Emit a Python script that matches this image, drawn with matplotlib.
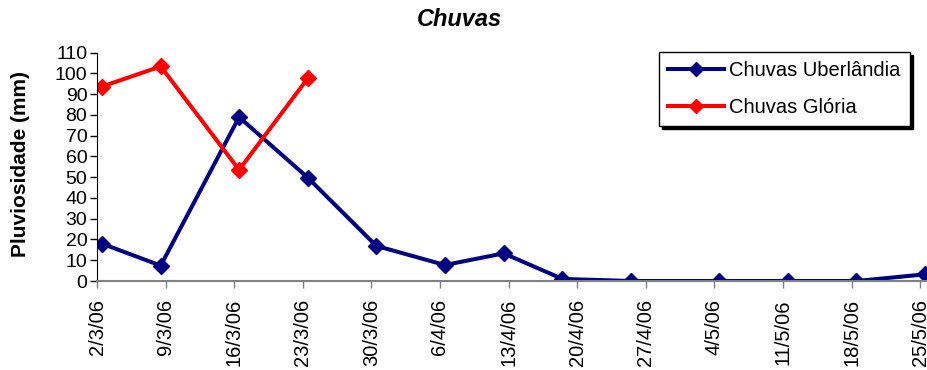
import datetime as dt

import matplotlib
matplotlib.use('Agg')
import matplotlib.dates as mdates
import matplotlib.pyplot as plt

plt.rcParams['font.family'] = ['Liberation Sans', 'DejaVu Sans']

# measurement dates (rain gauge readings)
uberlandia_dates = ['2006-03-02', '2006-03-08', '2006-03-16', '2006-03-23', '2006-03-30',
                    '2006-04-06', '2006-04-12', '2006-04-18', '2006-04-25', '2006-05-04',
                    '2006-05-11', '2006-05-18', '2006-05-25']
uberlandia_mm = [18, 7.4, 78.9, 49.8, 16.9, 7.7, 13.3, 1.0, 0, 0, 0, 0, 3.2]

gloria_dates = ['2006-03-02', '2006-03-08', '2006-03-16', '2006-03-23']
gloria_mm = [93.6, 103.3, 53.5, 97.5]

tick_dates = ['2006-03-02', '2006-03-09', '2006-03-16', '2006-03-23', '2006-03-30',
              '2006-04-06', '2006-04-13', '2006-04-20', '2006-04-27', '2006-05-04',
              '2006-05-11', '2006-05-18', '2006-05-25']
tick_labels = ['2/3/06', '9/3/06', '16/3/06', '23/3/06', '30/3/06', '6/4/06', '13/4/06',
               '20/4/06', '27/4/06', '4/5/06', '11/5/06', '18/5/06', '25/5/06']


def to_num(days, centre=False):
    # points sit in the middle of their day slot, ticks on the slot edge
    off = 0.5 if centre else 0.0
    return [mdates.date2num(dt.datetime.strptime(d, '%Y-%m-%d')) + off for d in days]


fig = plt.figure(figsize=(9.28, 3.70), dpi=100)
ax = fig.add_axes([97 / 928, 89 / 370, 831 / 928, 228.5 / 370])

ax.plot(to_num(uberlandia_dates, True), uberlandia_mm, color='#000080', lw=2.9,
        marker='D', ms=8.5, label='Chuvas Uberlândia')
ax.plot(to_num(gloria_dates, True), gloria_mm, color='#FF0000', lw=2.9,
        marker='D', ms=8.5, label='Chuvas Glória')

x0 = to_num(['2006-03-02'])[0]
ax.set_xlim(x0, x0 + 84.8)
ax.set_ylim(0, 110)
ax.set_yticks(range(0, 111, 10))
ax.set_xticks(to_num(tick_dates))
ax.set_xticklabels(tick_labels, rotation=90)

for s in ('top', 'right'):
    ax.spines[s].set_visible(False)
ax.spines['left'].set_color('black')
ax.spines['bottom'].set_color('#808080')
ax.spines['bottom'].set_linewidth(1.5)
ax.tick_params(axis='y', labelsize=14, length=5, width=1, pad=2, colors='black')
ax.tick_params(axis='x', labelsize=14.5, length=5, width=1, pad=8, color='#808080')
ax.margins(0)

fig.text(21 / 928, 1 - 164 / 370, 'Pluviosidade (mm)', rotation=90, ha='center',
         va='center', fontsize=15, fontweight='bold')
fig.text(459 / 928, 1 - 19 / 370, 'Chuvas', ha='center', va='center',
         fontsize=17, fontweight='bold', style='italic')

leg = ax.legend(loc='upper left', bbox_to_anchor=(659 / 928, 1 - 52 / 370),
                bbox_transform=fig.transFigure, fontsize=14.5, handlelength=2.8,
                frameon=True, fancybox=False, borderpad=0.45, labelspacing=0.9,
                handletextpad=0.25, borderaxespad=0, markerscale=0.8,
                shadow={'color': 'black', 'alpha': 1})
leg.get_frame().set_edgecolor('black')
leg.get_frame().set_linewidth(1)

fig.savefig('out.png', dpi=100)
